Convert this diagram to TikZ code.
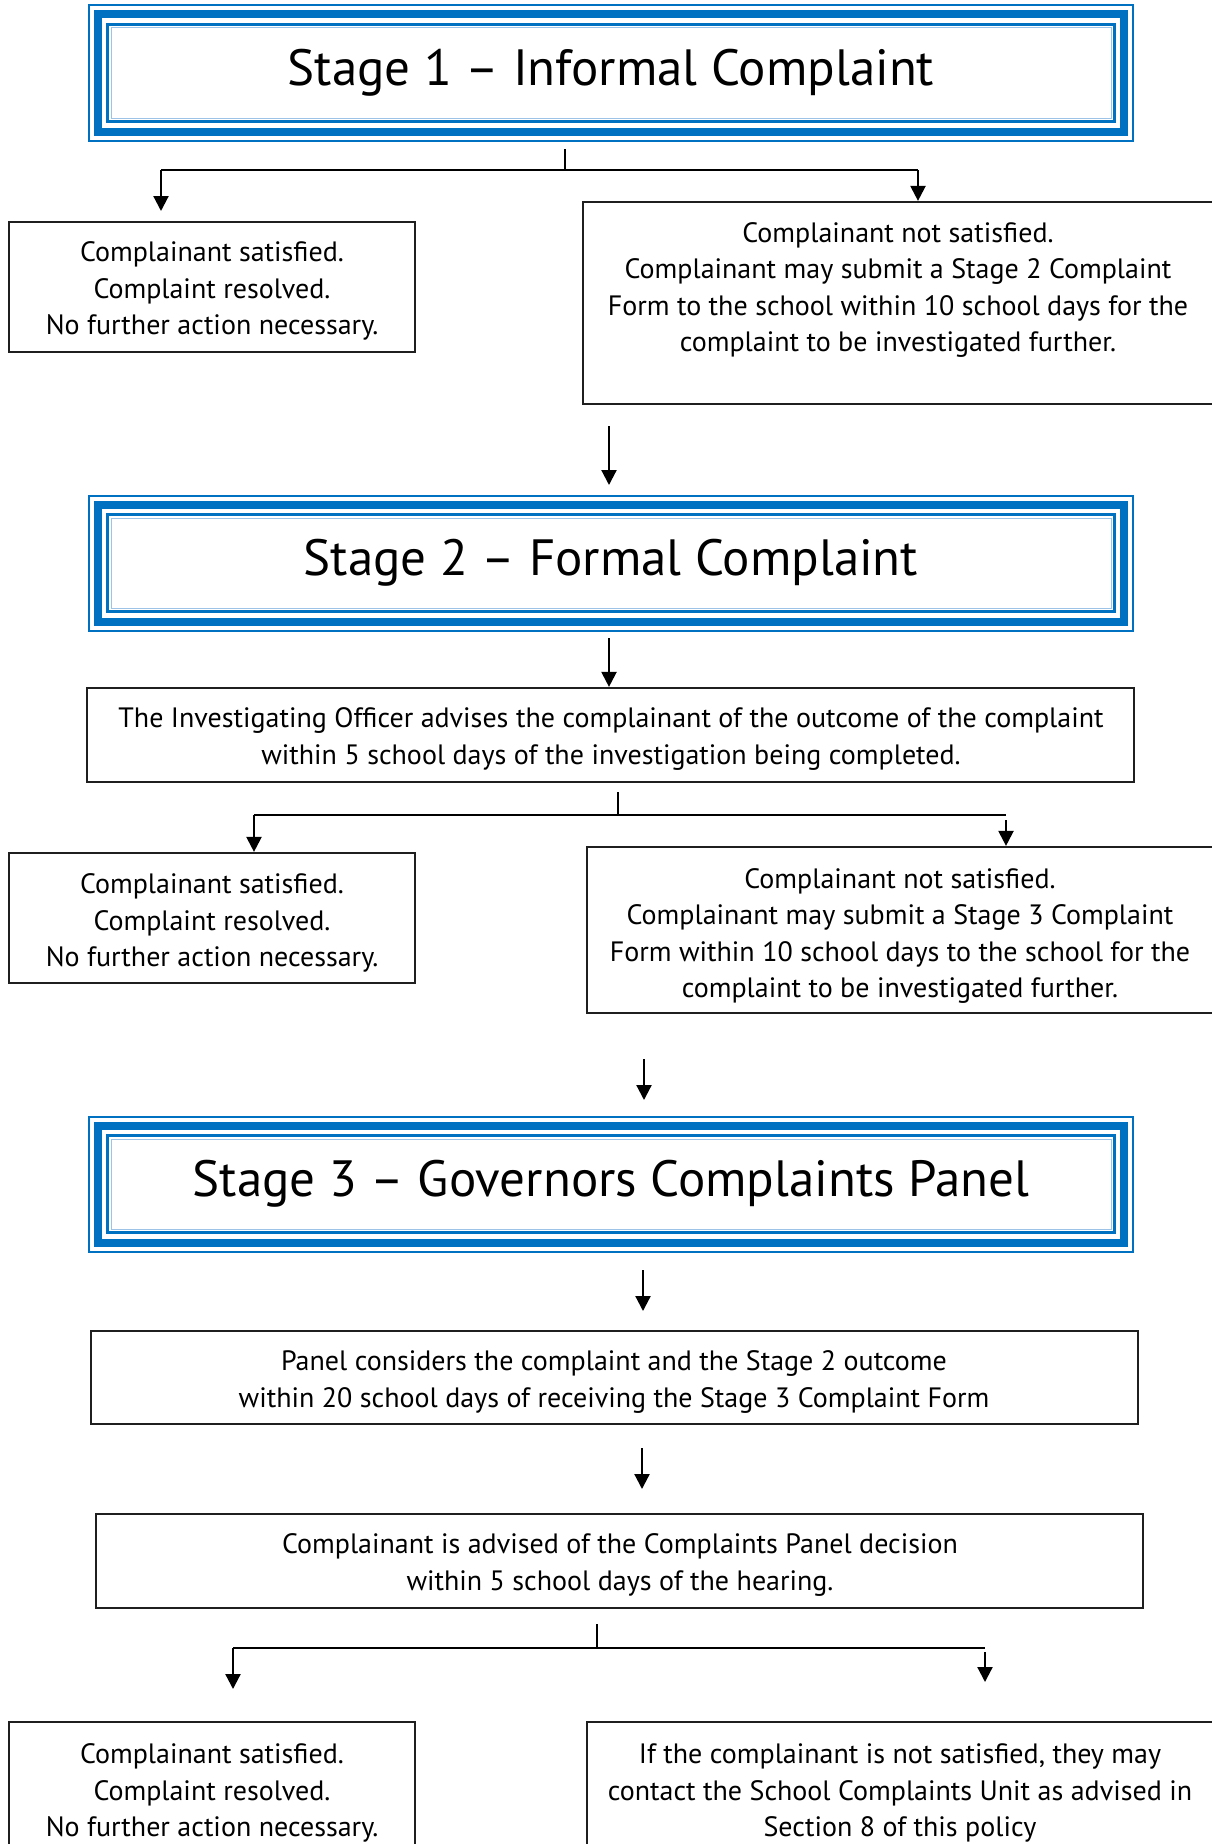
\documentclass[tikz,border=0pt]{standalone}
\usepackage{fontspec}
\setmainfont{PT Sans}
\usetikzlibrary{arrows.meta}
\definecolor{sblue}{HTML}{0070C0}
\definecolor{lblue}{HTML}{9DC3E6}
\begin{document}
\begin{tikzpicture}[x=1pt,y=-1pt,
  box/.style={draw=black!88, line width=2.2pt, inner sep=0pt, rectangle},
  txt/.style={align=center, inner sep=0pt, font=\fontsize{28}{36.5}\selectfont},
  stage/.style={draw=sblue, line width=2pt, inner sep=0pt, rectangle,
    minimum width=1044pt, minimum height=135pt, font=\fontsize{51}{55}\selectfont},
  thickb/.style={draw=sblue, line width=8pt},
  thinb/.style={draw=sblue, line width=3pt},
  hairb/.style={draw=lblue, line width=1pt},
  arr/.style={line width=2.2pt, -{Triangle[length=15pt,width=15pt]}},
  conn/.style={line width=2.5pt},
  tickl/.style={line width=1.5pt}]
\useasboundingbox (0,0) rectangle (1212,1844);
\clip (0,0) rectangle (1212,1844);
\fill[white] (0,0) rectangle (1212,1844);

% ---------- Stage 1 ----------
\node[stage] (s1) at (611,73) {Stage 1 – Informal Complaint};
\draw[thickb] ([shift={(10,10)}]s1.north west) rectangle ([shift={(-10,-10)}]s1.south east);
\draw[thinb] ([shift={(19.5,20)}]s1.north west) rectangle ([shift={(-19.5,-20)}]s1.south east);
\draw[hairb] ([shift={(23,23.5)}]s1.north west) rectangle ([shift={(-23,-23.5)}]s1.south east);

\node[box, minimum width=406pt, minimum height=130pt] (l1) at (212,287) {};
\node[txt] (t1l) at (212,291)
  {Complainant satisfied.\\Complaint resolved.\\No further action necessary.};
\node[box, minimum width=631pt, minimum height=202pt] (r1) at (898.5,303) {};
\node[txt] (t1r) at (898,290)
  {Complainant not satisfied.\\Complainant may submit a Stage 2 Complaint\\Form to the school within 10 school days for the\\complaint to be investigated further.};

\coordinate (k1a) at (565,149);
\coordinate (k1b) at (565,169);
\coordinate (j1l) at (161,170);
\coordinate (j1r) at (918,170);
\coordinate (a1l) at (161,211);
\draw[tickl] (k1a) -- (k1b);
\draw[conn] (j1l) -- (j1r);
\draw[arr] (j1l) -- (a1l);
\draw[arr] (j1r) -- (r1.north -| j1r);

% ---------- Stage 2 ----------
\node[stage] (s2) at (611,563) {Stage 2 – Formal Complaint};
\draw[thickb] ([shift={(10,10)}]s2.north west) rectangle ([shift={(-10,-10)}]s2.south east);
\draw[thinb] ([shift={(19.5,20)}]s2.north west) rectangle ([shift={(-19.5,-20)}]s2.south east);
\draw[hairb] ([shift={(23,23.5)}]s2.north west) rectangle ([shift={(-23,-23.5)}]s2.south east);

\coordinate (a2s) at (609,426);
\coordinate (a2e) at (609,485);
\draw[arr] (a2s) -- (a2e);

\node[box, minimum width=1047pt, minimum height=94pt] (io) at (610.5,735) {};
\node[txt] (tio) at (611,739)
  {The Investigating Officer advises the complainant of the outcome of the complaint\\within 5 school days of the investigation being completed.};
\coordinate (a3s) at (609,638);
\draw[arr] (a3s) -- (io.north -| a3s);

\node[box, minimum width=406pt, minimum height=130pt] (l2) at (212,918) {};
\node[txt] (t2l) at (212,923)
  {Complainant satisfied.\\Complaint resolved.\\No further action necessary.};
\node[box, minimum width=627pt, minimum height=166pt] (r2) at (900.5,930) {};
\node[txt] (t2r) at (900,936)
  {Complainant not satisfied.\\Complainant may submit a Stage 3 Complaint\\Form within 10 school days to the school for the\\complaint to be investigated further.};

\coordinate (k2a) at (618,792);
\coordinate (k2b) at (618,814);
\coordinate (j2l) at (254,815);
\coordinate (j2r) at (1006,815);
\coordinate (j2rs) at (1006,820);
\draw[tickl] (k2a) -- (k2b);
\draw[conn] (j2l) -- (j2r);
\draw[arr] (j2l) -- (l2.north -| j2l);
\draw[arr] (j2rs) -- (r2.north -| j2rs);

% ---------- Stage 3 ----------
\coordinate (a4s) at (644,1059);
\coordinate (a4e) at (644,1100);
\draw[arr] (a4s) -- (a4e);

\node[stage] (s3) at (611,1184) {Stage 3 – Governors Complaints Panel};
\draw[thickb] ([shift={(10,10)}]s3.north west) rectangle ([shift={(-10,-10)}]s3.south east);
\draw[thinb] ([shift={(19.5,20)}]s3.north west) rectangle ([shift={(-19.5,-20)}]s3.south east);
\draw[hairb] ([shift={(23,23.5)}]s3.north west) rectangle ([shift={(-23,-23.5)}]s3.south east);

\coordinate (a5s) at (643,1270);
\coordinate (a5e) at (643,1311);
\draw[arr] (a5s) -- (a5e);

\node[box, minimum width=1047pt, minimum height=93pt] (pn) at (614.5,1377.5) {};
\node[txt] (tpn) at (614,1382)
  {Panel considers the complaint and the Stage 2 outcome\\within 20 school days of receiving the Stage 3 Complaint Form};

\coordinate (a6s) at (642,1448);
\coordinate (a6e) at (642,1489);
\draw[arr] (a6s) -- (a6e);

\node[box, minimum width=1047pt, minimum height=94pt] (ad) at (619.5,1561) {};
\node[txt] (tad) at (620,1565)
  {Complainant is advised of the Complaints Panel decision\\within 5 school days of the hearing.};

\node[box, minimum width=406pt, minimum height=178pt] (l3) at (212,1811) {};
\node[txt] (t3l) at (212,1793)
  {Complainant satisfied.\\Complaint resolved.\\No further action necessary.};
\node[box, minimum width=627pt, minimum height=178pt] (r3) at (900.5,1811) {};
\node[txt] (t3r) at (900,1793)
  {If the complainant is not satisfied, they may\\contact the School Complaints Unit as advised in\\Section 8 of this policy};

\coordinate (k3a) at (597,1624);
\coordinate (k3b) at (597,1647);
\coordinate (j3l) at (233,1648);
\coordinate (j3r) at (985,1648);
\coordinate (j3rs) at (985,1652);
\coordinate (a7l) at (233,1689);
\coordinate (a7r) at (985,1682);
\draw[tickl] (k3a) -- (k3b);
\draw[conn] (j3l) -- (j3r);
\draw[arr] (j3l) -- (a7l);
\draw[arr] (j3rs) -- (a7r);
\end{tikzpicture}
\end{document}
